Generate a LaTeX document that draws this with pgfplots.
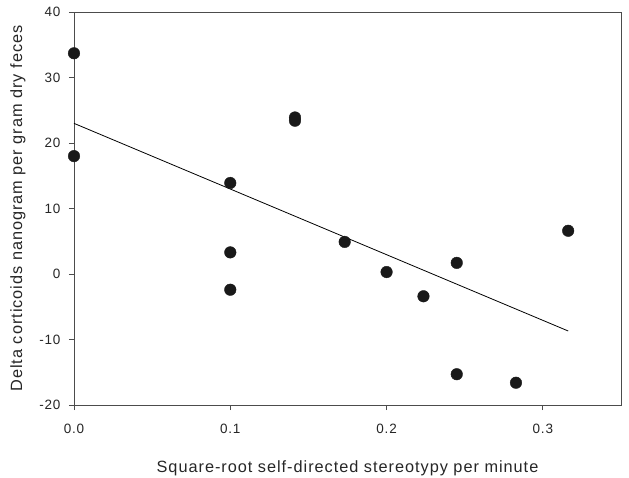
\documentclass[border=0pt]{standalone}
\usepackage{pgfplots}
\pgfplotsset{compat=1.18}
\usepackage{fontspec}
\setmainfont{Liberation Sans}
\begin{document}
\begin{tikzpicture}[x=1pt,y=1pt]
\useasboundingbox (-74,-72) rectangle (555,405);
\begin{axis}[
  at={(0,0)}, anchor=south west,
  scale only axis, width=547pt, height=393pt,
  xmin=0, xmax=0.35, ymin=-20, ymax=40,
  xtick={0,0.1,0.2,0.3}, ytick={-20,-10,0,10,20,30,40},
  x tick label style={/pgf/number format/fixed,/pgf/number format/fixed zerofill,/pgf/number format/precision=1},
  /pgf/number format/assume math mode=true,
  tick pos=left, tick align=outside,
  major tick length=5pt,
  axis line style={black!70, line width=0.8pt},
  every tick/.style={black!70, line width=0.8pt},
  tick label style={font=\fontsize{13.5}{15}\selectfont\addfontfeature{LetterSpace=6}, text=black!85},
  x tick label style={yshift=-11pt},
  y tick label style={xshift=-5pt},
  label style={font=\fontsize{16.3}{19}\selectfont\addfontfeature{LetterSpace=6}, text=black!85},
  xlabel={Square-root self-directed stereotypy per minute},
  ylabel={Delta corticoids nanogram per gram dry feces},
  xlabel style={yshift=-20pt},
  ylabel style={yshift=7pt},
  clip=false,
]
\addplot[only marks, mark=*, mark size=5.8pt, draw=black!90, fill=black!90] coordinates {
(0,33.7) (0,18.0) (0.1,13.9) (0.1,3.3) (0.1,-2.4)
(0.1414,23.9) (0.1414,23.4) (0.1732,4.9) (0.2,0.3) (0.2236,-3.4)
(0.2449,1.7) (0.2449,-15.3) (0.2828,-16.6) (0.3162,6.6)
};
\addplot[black, line width=0.8pt] coordinates {(0,23.0) (0.3162,-8.7)};
\end{axis}
\end{tikzpicture}
\end{document}
